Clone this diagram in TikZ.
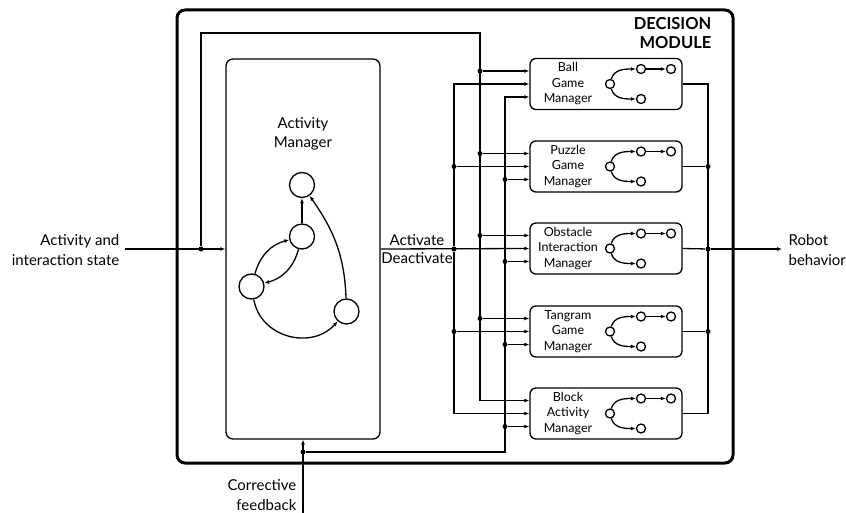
\documentclass[tikz,border=0pt]{standalone}
\usepackage{fontspec}
\setmainfont{Lato}
\usetikzlibrary{arrows.meta,calc}
\begin{document}
\begin{tikzpicture}[x=1pt,y=-1pt,
  line width=1.3pt,
  arr/.style={-{Latex[length=5pt,width=4pt]}},
  dot/.style={circle,fill=black,inner sep=0pt,minimum size=5pt},
  frame/.style={draw,line width=3pt,rounded corners=8pt},
  ambox/.style={draw,rounded corners=7pt,minimum width=154pt,minimum height=380pt,inner sep=0pt},
  mgr/.style={draw,rounded corners=6pt,minimum width=152pt,minimum height=51pt,inner sep=0pt},
  st/.style={draw,circle,minimum size=25pt,inner sep=0pt},
  ms/.style={draw,circle,minimum size=9pt,inner sep=0pt},
  lbl/.style={font=\fontsize{15}{19.5}\selectfont,align=center,inner sep=0pt},
  mlbl/.style={font=\fontsize{12.5}{15.5}\selectfont,align=center,inner sep=0pt},
]
\useasboundingbox (0,0) rectangle (846,513);
% outer frame
\node[frame,minimum width=556pt,minimum height=453pt,inner sep=0pt] (dm) at (455,236.5) {};
\node[font=\bfseries\fontsize{16.5}{19}\selectfont,align=right,anchor=east,inner sep=0pt] (dmt) at (712,33) {DECISION\\MODULE};
% activity manager
\node[ambox] (am) at (303,249) {};
\node[lbl] (amt) at (303,134) {Activity\\Manager};
\node[st] (s1) at (302,185) {};
\node[st] (s2) at (302,236.5) {};
\node[st] (s3) at (251.5,286.5) {};
\node[st] (s4) at (346.5,311.5) {};
\draw[arr] (s2) -- (s1);
\draw[arr] (s3) to[bend left=30] (s2);
\draw[arr] (s2) to[bend left=30] (s3);
\draw[arr] (s3) to[out=-80,in=228,looseness=1.15] (s4);
\draw[arr] (s4) to[out=92,in=-55] (s1);
% managers
\foreach \i/\y/\t in {1/84/{Ball\\Game\\Manager},2/166.5/{Puzzle\\Game\\Manager},3/248.5/{Obstacle\\Interaction\\Manager},4/331.5/{Tangram\\Game\\Manager},5/413.5/{Block\\Activity\\Manager}}{
  \node[mgr] (m\i) at (606,\y) {};
  \node[mlbl] (t\i) at (568,\y) {\t};
  \node[ms] (a\i) at (610,\y) {};
  \node[ms] (b\i) at (641,\y-15) {};
  \node[ms] (c\i) at (671,\y-15) {};
  \node[ms] (d\i) at (641,\y+15) {};
  \draw[arr] (a\i) to[out=75,in=180] (b\i);
  \draw[arr] (b\i) -- (c\i);
  \draw[arr] (a\i) to[out=-75,in=180] (d\i);
  \coordinate (p\i) at ($(m\i.west)+(0,-13)$);
  \coordinate (q\i) at (m\i.west);
  \coordinate (r\i) at ($(m\i.west)+(0,13)$);
}
% input
\coordinate (in) at (125,249);
\node[lbl,anchor=east,align=right] (inl) at (120,250) {Activity and\\interaction state};
\draw[arr] (in) -- (am.west);
\node[dot] (j1) at (201,249) {};
\coordinate (va) at (480,33);
\draw[arr] (j1) |- (va) |- (p5);
\foreach \i in {1,2,3,4}{
  \node[dot] (ja\i) at (va |- p\i) {};
  \draw[arr] (ja\i) -- (p\i);
}
% activate / deactivate
\node[dot] (vb) at (454,249) {};
\draw[arr] (am.east) -- (q3);
\draw[arr] (vb) |- (q1);
\draw[arr] (vb) |- (q5);
\foreach \i in {2,4}{
  \node[dot] (jb\i) at (vb |- q\i) {};
  \draw[arr] (jb\i) -- (q\i);
}
\node[lbl,anchor=south] (act) at (417,246) {Activate};
\node[lbl,anchor=north] (deact) at (417,252) {Deactivate};
% corrective feedback
\coordinate (fbin) at (303,513);
\draw[arr] (fbin) -- (am.south);
\node[dot] (jf) at (303,452) {};
\coordinate (vc) at (505,452);
\draw[arr] (jf) -- (vc) |- (r1);
\foreach \i in {2,3,4,5}{
  \node[dot] (jc\i) at (vc |- r\i) {};
  \draw[arr] (jc\i) -- (r\i);
}
\node[lbl,anchor=east,align=right] (fbl) at (297,495) {Corrective\\feedback};
% output
\coordinate (vd) at (708,249);
\draw (m1.east) -| (vd);
\draw (m5.east) -| (vd);
\foreach \i in {2,4}{
  \node[dot] (jd\i) at (vd |- m\i.east) {};
  \draw (m\i.east) -- (jd\i);
}
\node[dot] (jd3) at (vd) {};
\draw (m3.east) -- (jd3);
\coordinate (out) at (782,249);
\draw[arr] (jd3) -- (out);
\node[lbl,anchor=west,align=left] (outl) at (788,250) {Robot\\behavior};
\end{tikzpicture}
\end{document}
